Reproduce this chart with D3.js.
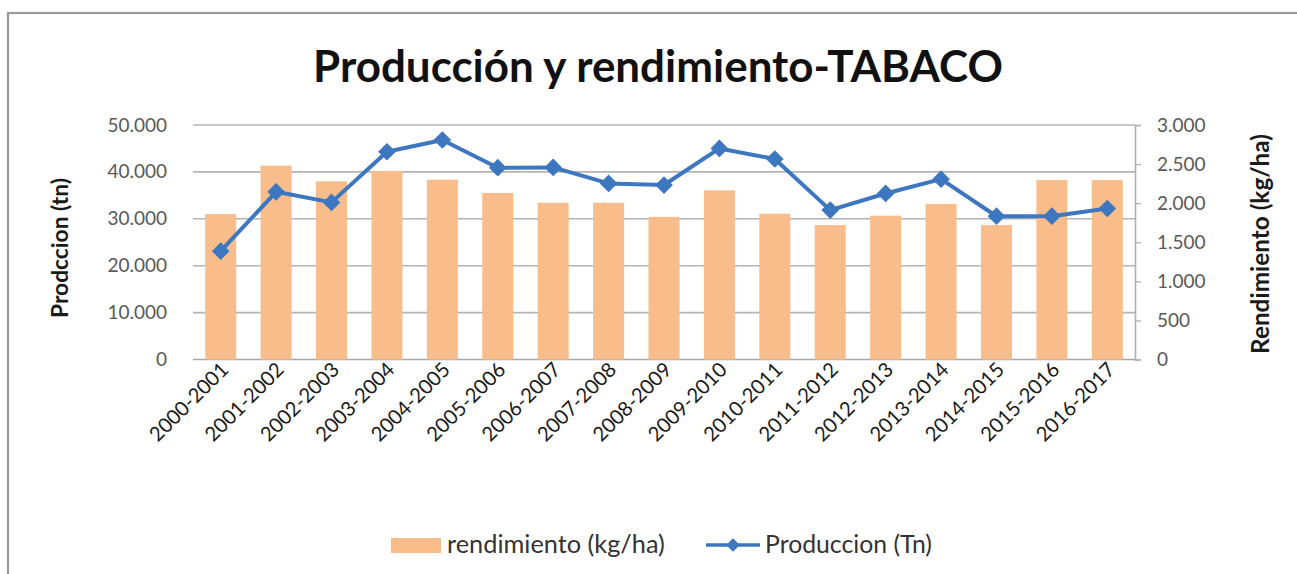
<!DOCTYPE html>
<html><head><meta charset="utf-8">
<script src="https://cdn.jsdelivr.net/npm/d3@7"></script>
<style>html,body{margin:0;background:#fff;overflow:hidden}svg{display:block}text{font-family:Lato,"Open Sans",sans-serif}</style>
</head><body>
<svg id="c" width="1297" height="574"></svg>
<script>
const categories=["2000-2001","2001-2002","2002-2003","2003-2004","2004-2005","2005-2006","2006-2007","2007-2008","2008-2009","2009-2010","2010-2011","2011-2012","2012-2013","2013-2014","2014-2015","2015-2016","2016-2017"];
const rendimiento=[1860,2480,2280,2410,2300,2130,2005,2005,1825,2165,1865,1720,1840,1990,1720,2295,2295];
const produccion=[23100,35750,33500,44300,46800,40900,40950,37550,37200,45000,42750,31850,35400,38450,30550,30550,32200];
const leftTicks=[0,10000,20000,30000,40000,50000];
const rightTicks=[0,500,1000,1500,2000,2500,3000];
const title="Producción y rendimiento-TABACO";
const leftTitle="Prodccion (tn)";
const rightTitle="Rendimiento (kg/ha)";
const legendBar="rendimiento (kg/ha)";
const legendLine="Produccion (Tn)";

const svg=d3.select("#c");
const fmt=v=>v===0?"0":d3.format(",")(v).replace(/,/g,".");
const L=193,R=1135,T=125,B=359.5;
const x=d3.scaleBand().domain(categories).range([L,R]).paddingInner(0.44).paddingOuter(0.22);
const yL=d3.scaleLinear().domain([0,50000]).range([B,T]);
const yR=d3.scaleLinear().domain([0,3000]).range([B,T]);
function fitWidth(sel,target){const w=sel.node().getComputedTextLength();const fs=+sel.attr("font-size");sel.attr("font-size",fs*target/w);return sel;}

// outer border
svg.append("rect").attr("x",8).attr("y",13).attr("width",1320).attr("height",620)
  .attr("fill","none").attr("stroke","#9a9a9a").attr("stroke-width",2.2);

// title
const tt=svg.append("text").attr("x",658).attr("y",82).attr("text-anchor","middle")
  .attr("font-weight","bold").attr("font-size",38).attr("fill","#111").text(title);
fitWidth(tt,690);

// gridlines (left axis)
svg.append("g").selectAll("line").data(leftTicks).join("line")
  .attr("x1",L).attr("x2",R).attr("y1",d=>yL(d)).attr("y2",d=>yL(d))
  .attr("stroke",(d)=>d===0?"#a8a8a8":"#b4b4b4").attr("stroke-width",1.6);

// left axis labels
const gl=svg.append("g").attr("transform",`translate(${L},0)`)
  .call(d3.axisLeft(yL).tickValues(leftTicks).tickFormat(fmt).tickSize(0).tickPadding(26));
gl.select(".domain").remove();
gl.selectAll("text").attr("font-size",19).attr("fill","#595959").attr("font-family","Lato,'Open Sans',sans-serif");

// right axis
const gr=svg.append("g").attr("transform",`translate(${R},0)`)
  .call(d3.axisRight(yR).tickValues(rightTicks).tickFormat(fmt).tickSize(6).tickPadding(16));
gr.select(".domain").attr("stroke","#b0b0b0").attr("stroke-width",1.6);
gr.selectAll(".tick line").attr("stroke","#b0b0b0").attr("stroke-width",1.3);
gr.selectAll("text").attr("font-size",19).attr("fill","#595959").attr("font-family","Lato,'Open Sans',sans-serif");

// bars
svg.append("g").selectAll("rect").data(rendimiento).join("rect")
  .attr("x",(d,i)=>x(categories[i])).attr("width",x.bandwidth())
  .attr("y",d=>yR(d)).attr("height",d=>B-yR(d)).attr("fill","#f9bd8b");

// line
const cx=i=>x(categories[i])+x.bandwidth()/2;
svg.append("path").datum(produccion)
  .attr("d",d3.line().x((d,i)=>cx(i)).y(d=>yL(d)))
  .attr("fill","none").attr("stroke","#3d77bf").attr("stroke-width",4).attr("stroke-linejoin","round");
const diamond=d3.symbol().type(d3.symbolDiamond2).size(200);
svg.append("g").selectAll("path").data(produccion).join("path")
  .attr("transform",(d,i)=>`translate(${cx(i)},${yL(d)})`).attr("d",diamond).attr("fill","#3d77bf");

// x labels
svg.append("g").selectAll("text").data(categories).join("text")
  .attr("transform",(d,i)=>`translate(${cx(i)+9},${371}) rotate(-45)`)
  .attr("text-anchor","end").attr("font-size",20.3).attr("fill","#1a1a1a").text(d=>d);

// axis titles
const lt=svg.append("text").attr("transform","translate(68,248) rotate(-90)").attr("text-anchor","middle")
  .attr("font-weight","bold").attr("font-size",18).attr("fill","#1a1a1a").text(leftTitle);
fitWidth(lt,140);
const rt=svg.append("text").attr("transform","translate(1269,244) rotate(-90)").attr("text-anchor","middle")
  .attr("font-weight","bold").attr("font-size",18).attr("fill","#1a1a1a").text(rightTitle);
fitWidth(rt,220);

// legend
const lg=svg.append("g");
lg.append("rect").attr("x",391).attr("y",538).attr("width",50).attr("height",15).attr("fill","#f9bd8b");
const l1=lg.append("text").attr("x",447).attr("y",553).attr("font-size",19).attr("fill","#333").text(legendBar);
fitWidth(l1,218);
lg.append("line").attr("x1",706).attr("x2",760).attr("y1",545).attr("y2",545).attr("stroke","#3d77bf").attr("stroke-width",3.5);
lg.append("path").attr("transform","translate(733,545)").attr("d",d3.symbol().type(d3.symbolDiamond2).size(120)).attr("fill","#3d77bf");
const l2=lg.append("text").attr("x",765).attr("y",553).attr("font-size",19).attr("fill","#333").text(legendLine);
fitWidth(l2,167);
</script>
</body></html>
